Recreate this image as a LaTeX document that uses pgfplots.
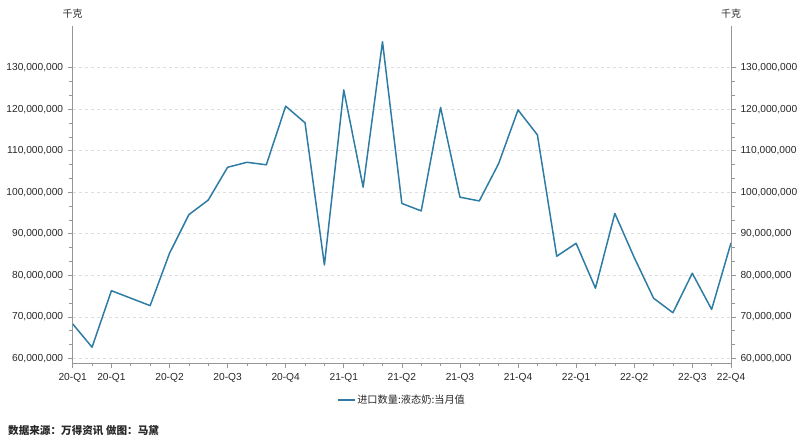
\documentclass[border=0pt]{standalone}
\usepackage{pgfplots}
\pgfplotsset{compat=1.18}
\usepackage{fontspec}
\setmainfont{Liberation Sans}
\newfontfamily\cjk{Noto Sans CJK SC}
\definecolor{linec}{RGB}{46,124,164}
\definecolor{axisc}{RGB}{150,150,150}
\definecolor{gridc}{RGB}{222,222,222}
\definecolor{textc}{RGB}{40,40,40}
\pgfplotsset{
  common/.style={
    at={(72.7pt,78pt)}, anchor=south west,
    scale only axis, width=658.3pt, height=337pt,
    xmin=0, xmax=34, ymin=58900000, ymax=140000000,
    ytick={60000000,70000000,80000000,90000000,100000000,110000000,120000000,130000000},
    minor y tick num=2,
    scaled y ticks=false,
    /pgf/number format/fixed,
    /pgf/number format/1000 sep={,},
    /pgf/number format/precision=0,
    /pgf/number format/assume math mode=true,
    tick label style={font=\fontsize{10.2}{12}\selectfont, text=textc},
    axis line style={draw=axisc, line width=0.8pt},
    tick style={draw=axisc, line width=0.6pt},
    tick align=outside,
    major tick length=5pt, minor tick length=3.5pt,
  }
}
\begin{document}
\begin{tikzpicture}
\useasboundingbox (0,0) rectangle (800pt,441pt);
\begin{axis}[common,
  axis x line*=bottom, axis y line*=left,
  ymajorgrids, grid style={dashed, gridc, line width=0.6pt},
  xtick={0,2,5,8,11,14,17,20,23,26,29,32,34},
  xticklabels={20-Q1,20-Q1,20-Q2,20-Q3,20-Q4,21-Q1,21-Q2,21-Q3,21-Q4,22-Q1,22-Q2,22-Q3,22-Q4},
  minor xtick={0,1,...,34},
  xticklabel style={yshift=-2pt},
  yticklabel style={xshift=-1pt},
  legend style={at={(0.5,-0.11)}, anchor=center, draw=none, fill=none,
    font=\cjk\fontsize{10.2}{12}\selectfont, text=textc},
  legend image code/.code={\draw[#1] (0pt,0pt) -- (17pt,0pt);},
]
\addplot[linec, line width=1.5pt, line join=round] coordinates {
(0,68300000) (1,62700000) (2,76300000) (3,74500000) (4,72700000)
(5,85300000) (6,94600000) (7,98100000) (8,106000000) (9,107200000)
(10,106600000) (11,120700000) (12,116700000) (13,82500000) (14,124600000)
(15,101200000) (16,136200000) (17,97300000) (18,95500000) (19,120400000)
(20,98800000) (21,97900000) (22,106900000) (23,119800000) (24,113800000)
(25,84600000) (26,87700000) (27,76900000) (28,94900000) (29,84300000)
(30,74500000) (31,71000000) (32,80500000) (33,71800000) (34,87800000)
};
\addlegendentry{进口数量:液态奶:当月值}
\end{axis}
\begin{axis}[common,
  axis x line=none, axis y line*=right,
  yticklabel style={xshift=1pt},
]
\addplot[draw=none] coordinates {(0,60000000) (34,60000000)};
\end{axis}
\node[font=\cjk\fontsize{10}{11}\selectfont, text=textc] at (72.7pt,427pt) {千克};
\node[font=\cjk\fontsize{10}{11}\selectfont, text=textc] at (731pt,427pt) {千克};
\node[anchor=west, font=\cjk\bfseries\fontsize{10.6}{12}\selectfont, text=textc, inner sep=0pt] at (8pt,10pt) {数据来源：万得资讯 做图：马黛};
\end{tikzpicture}
\end{document}
